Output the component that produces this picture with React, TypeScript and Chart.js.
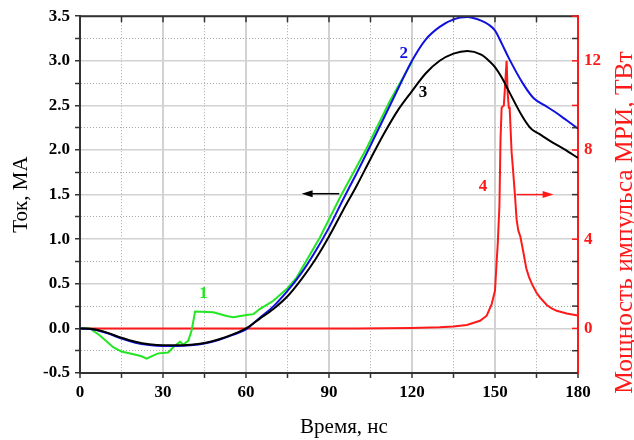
import React, { useEffect, useRef } from 'react';
import { Chart, registerables } from 'chart.js';
Chart.register(...registerables);

// ---- data (time in ns, current in MA, power in TW) ----
const timeGreen = [0, 3.6, 7.2, 12, 15, 19.3, 22, 24.1, 26, 28.3, 31.9, 33.7, 36.1, 37.3, 39.1, 40.3, 41.6, 48.2, 53, 55.4, 60.2, 62.7, 65.1, 69.9, 75, 78.3, 86.7, 94, 103.6, 112, 120];
const currentGreen = [0, 0, -0.08, -0.21, -0.26, -0.29, -0.31, -0.34, -0.31, -0.28, -0.27, -0.21, -0.15, -0.18, -0.14, -0.03, 0.19, 0.18, 0.14, 0.125, 0.15, 0.16, 0.22, 0.31, 0.45, 0.57, 1.02, 1.47, 2.02, 2.55, 2.99];

const timeBlue = [0, 5, 10, 15, 20, 25, 30, 35, 40, 45, 50, 55, 60, 65, 70, 75, 80, 85, 90, 95, 100, 105, 110, 115, 120, 125, 130, 135, 140, 145, 147.5, 150, 152.5, 155, 160, 164, 168, 172, 176, 180];
const currentBlue = [0, -0.012, -0.055, -0.115, -0.16, -0.185, -0.197, -0.198, -0.19, -0.17, -0.13, -0.075, -0.01, 0.12, 0.25, 0.42, 0.62, 0.86, 1.13, 1.44, 1.74, 2.05, 2.37, 2.69, 3.0, 3.24, 3.38, 3.465, 3.49, 3.45, 3.41, 3.34, 3.19, 3.03, 2.75, 2.58, 2.5, 2.42, 2.33, 2.24];

const timeBlack = [0, 5, 10, 15, 20, 25, 30, 35, 40, 45, 50, 55, 60, 65, 70, 75, 80, 85, 90, 95, 100, 105, 110, 115, 120, 125, 130, 135, 140, 145, 147.5, 150, 152.5, 155, 160, 163, 166, 170, 175, 180];
const currentBlack = [0, -0.01, -0.05, -0.105, -0.15, -0.178, -0.19, -0.19, -0.183, -0.163, -0.125, -0.07, 0, 0.11, 0.22, 0.36, 0.55, 0.77, 1.03, 1.32, 1.6, 1.9, 2.19, 2.45, 2.66, 2.86, 3.0, 3.08, 3.11, 3.07, 3.01, 2.93, 2.81, 2.66, 2.37, 2.24, 2.18, 2.1, 2.01, 1.91];

const timeRed = [0, 100, 120, 130, 135, 139.8, 144.6, 147, 148.8, 150, 150.6, 151.0, 151.6, 152.0, 152.4, 153.2, 153.8, 154.2, 154.6, 155.0, 155.3, 156.0, 156.4, 157.2, 157.8, 158.4, 159.2, 160.2, 161.3, 162.3, 163.5, 165, 166.3, 168.7, 170.5, 172.3, 175.9, 180];
const powerRed = [0, 0, 0.02, 0.05, 0.08, 0.15, 0.34, 0.57, 1.09, 1.69, 3.0, 3.8, 5.5, 8.5, 9.9, 10.0, 11.2, 12.0, 10.5, 9.9, 9.9, 7.9, 7.3, 6.0, 4.9, 4.4, 4.1, 3.45, 2.7, 2.3, 1.95, 1.6, 1.38, 1.05, 0.9, 0.79, 0.67, 0.58];

const xTickStep = 15;
const xLabelStep = 30;
const yTickStep = 0.25;
const yLabelStep = 0.5;
const y2TickStep = 1;
const y2Labels = [0, 4, 8, 12];

const xTitle = 'Время, нс';
const yTitle = 'Ток, МА';
const y2Title = 'Мощность импульса МРИ, ТВт';

const labelNotes = [
  { text: '1', color: '#22e622', x: 44.6, y: 0.39, axis: 'y' },
  { text: '2', color: '#1010e0', x: 117, y: 3.08, axis: 'y' },
  { text: '3', color: '#000000', x: 124, y: 2.64, axis: 'y' },
  { text: '4', color: '#ff1a1a', x: 145.7, y: 6.34, axis: 'y2' },
];
const arrowNotes = [
  { color: '#000000', from: 93.7, to: 80.1, y: 1.51, axis: 'y' },
  { color: '#ff1a1a', from: 157.8, to: 171.2, y: 6.0, axis: 'y2' },
];

const SERIF = "'Liberation Serif', 'Times New Roman', serif";

const pts = (xs: number[], ys: number[]) => xs.map((x, i) => ({ x, y: ys[i] }));

const isMultiple = (v: number, step: number) => Math.abs(v / step - Math.round(v / step)) < 1e-6;

const decorPlugin = {
  id: 'decor',
  afterDraw(chart: any) {
    const { ctx, chartArea, scales } = chart;
    const { left, right, top } = chartArea;
    ctx.save();
    // top border and inward ticks
    ctx.strokeStyle = '#333';
    ctx.lineWidth = 2;
    ctx.beginPath();
    ctx.moveTo(left - 1, top);
    ctx.lineTo(right, top);
    ctx.stroke();
    ctx.lineWidth = 1.5;
    scales.x.ticks.forEach((t: any) => {
      const px = scales.x.getPixelForValue(t.value);
      if (px <= left + 1 || px >= right - 1) return;
      ctx.beginPath();
      ctx.moveTo(px, top);
      ctx.lineTo(px, top + 6);
      ctx.stroke();
    });
    // right inward ticks
    scales.y2.ticks.forEach((t: any) => {
      const v = t.value;
      const py = scales.y2.getPixelForValue(v);
      const red = isMultiple(v, 4) || (v >= 8 && isMultiple(v, 2));
      ctx.strokeStyle = red ? '#ff1a1a' : '#333';
      ctx.lineWidth = 1.5;
      ctx.beginPath();
      ctx.moveTo(right - 6, py);
      ctx.lineTo(right, py);
      ctx.stroke();
    });
    // x title
    ctx.fillStyle = '#000';
    ctx.font = `21px ${SERIF}`;
    ctx.textAlign = 'center';
    ctx.textBaseline = 'alphabetic';
    ctx.fillText(xTitle, 344, 433);
    // right title
    ctx.fillStyle = '#ff1a1a';
    ctx.font = `25.5px ${SERIF}`;
    ctx.translate(632, 222.5);
    ctx.rotate(-Math.PI / 2);
    ctx.fillText(y2Title, 0, 0);
    ctx.restore();
  },
  afterDatasetsDraw(chart: any) {
    const { ctx, scales } = chart;
    ctx.save();
    ctx.font = `bold 17px ${SERIF}`;
    ctx.textAlign = 'center';
    ctx.textBaseline = 'middle';
    labelNotes.forEach((n) => {
      ctx.fillStyle = n.color;
      ctx.fillText(n.text, scales.x.getPixelForValue(n.x), scales[n.axis].getPixelForValue(n.y));
    });
    arrowNotes.forEach((a) => {
      const x1 = scales.x.getPixelForValue(a.from);
      const x2 = scales.x.getPixelForValue(a.to);
      const y = scales[a.axis].getPixelForValue(a.y);
      const dir = Math.sign(x2 - x1);
      ctx.strokeStyle = a.color;
      ctx.fillStyle = a.color;
      ctx.lineWidth = 1.5;
      ctx.beginPath();
      ctx.moveTo(x1, y);
      ctx.lineTo(x2 - dir * 8, y);
      ctx.stroke();
      ctx.beginPath();
      ctx.moveTo(x2, y);
      ctx.lineTo(x2 - dir * 11, y - 3.5);
      ctx.lineTo(x2 - dir * 11, y + 3.5);
      ctx.closePath();
      ctx.fill();
    });
    ctx.restore();
  },
};

const gridDash = (step: number) => (c: any) => {
  if (!c.tick) return [];
  return isMultiple(c.tick.value, step) ? [] : [1, 2];
};
const gridColor = (step: number) => (c: any) => {
  if (!c.tick) return '#d0d0d0';
  return isMultiple(c.tick.value, step) ? '#d2d2d2' : '#a8a8a8';
};

export default function App() {
  const ref = useRef<HTMLCanvasElement>(null);
  useEffect(() => {
    if (!ref.current) return;
    const chart = new Chart(ref.current, {
      type: 'line',
      data: {
        datasets: [
          { label: '3', data: pts(timeBlack, currentBlack), borderColor: '#000000', borderWidth: 2, pointRadius: 0, cubicInterpolationMode: 'monotone', yAxisID: 'y' },
          { label: '2', data: pts(timeBlue, currentBlue), borderColor: '#1010e0', borderWidth: 2, pointRadius: 0, cubicInterpolationMode: 'monotone', yAxisID: 'y' },
          { label: '1', data: pts(timeGreen, currentGreen), borderColor: '#22e622', borderWidth: 2, pointRadius: 0, tension: 0, yAxisID: 'y' },
          { label: '4', data: pts(timeRed, powerRed), borderColor: '#ff1a1a', borderWidth: 2, pointRadius: 0, tension: 0, yAxisID: 'y2' },
        ],
      } as any,
      options: {
        animation: false,
        responsive: false,
        layout: { padding: { top: 15, left: 0, right: 0, bottom: 0 } },
        plugins: { legend: { display: false }, tooltip: { enabled: false } },
        scales: {
          x: {
            type: 'linear',
            min: 0,
            max: 180,
            afterFit: (s: any) => { s.height = 67; },
            ticks: {
              stepSize: xTickStep,
              autoSkip: false,
              maxRotation: 0,
              padding: 4,
              color: '#000',
              font: { family: SERIF, size: 17, weight: 'bold' },
              callback: (v: any) => (isMultiple(Number(v), xLabelStep) ? String(v) : ''),
            },
            grid: {
              color: gridColor(xLabelStep),
              lineWidth: (c: any) => (c.tick && isMultiple(c.tick.value, xLabelStep) ? 2 : 1),
              tickColor: '#333',
              tickLength: 5,
              tickWidth: 1.5,
              tickBorderDash: [],
            },
            border: { color: '#333', width: 2, dash: gridDash(xLabelStep) },
          },
          y: {
            type: 'linear',
            position: 'left',
            min: -0.5,
            max: 3.5,
            afterFit: (s: any) => { s.width = 80; },
            ticks: {
              stepSize: yTickStep,
              autoSkip: false,
              padding: 5,
              color: '#000',
              font: { family: SERIF, size: 17, weight: 'bold' },
              callback: (v: any) => (isMultiple(Number(v), yLabelStep) ? Number(v).toFixed(1) : ''),
            },
            grid: {
              color: gridColor(yLabelStep),
              lineWidth: (c: any) => (c.tick && isMultiple(c.tick.value, yLabelStep) ? 1.5 : 1),
              tickColor: '#333',
              tickLength: 5,
              tickWidth: 1.5,
              tickBorderDash: [],
            },
            border: { color: '#333', width: 2, dash: gridDash(yLabelStep) },
            title: {
              display: true,
              text: yTitle,
              color: '#000',
              font: { family: SERIF, size: 21, weight: 'normal' },
              padding: { top: 9, bottom: 0 },
            },
          },
          y2: {
            type: 'linear',
            position: 'right',
            min: -2,
            max: 14,
            afterFit: (s: any) => { s.width = 56; },
            ticks: {
              stepSize: y2TickStep,
              autoSkip: false,
              padding: 6,
              color: '#ff1a1a',
              font: { family: SERIF, size: 17, weight: 'bold' },
              callback: (v: any) => (y2Labels.includes(Number(v)) ? String(v) : ''),
            },
            grid: { drawOnChartArea: false, drawTicks: false },
            border: { color: '#ff1a1a', width: 2 },
          },
        },
      } as any,
      plugins: [decorPlugin],
    });
    return () => chart.destroy();
  }, []);
  return (
    <div style={{ position: 'absolute', left: 0, top: 0, width: 634, height: 440, background: '#fff' }}>
      <canvas ref={ref} width={634} height={440} style={{ display: 'block' }} />
    </div>
  );
}
